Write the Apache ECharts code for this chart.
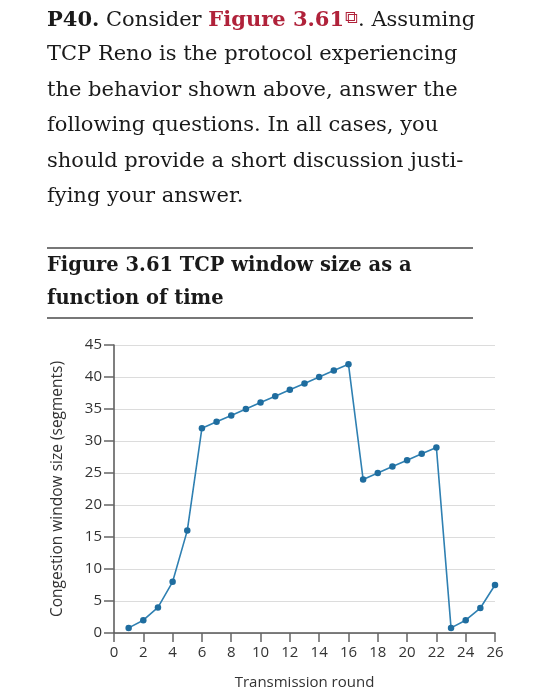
<!DOCTYPE html>
<html>
<head>
<meta charset="utf-8">
<script src="https://cdn.jsdelivr.net/npm/echarts@6/dist/echarts.min.js"></script>
<style>
  html, body { margin: 0; padding: 0; background: #fff; }
  #main { width: 557px; height: 700px; }
</style>
</head>
<body>
<div id="main"></div>
<script>
// transmission round and congestion window (segments)
var rounds = [1, 2, 3, 4, 5, 6, 7, 8, 9, 10, 11, 12, 13, 14, 15, 16, 17, 18, 19, 20, 21, 22, 23, 24, 25, 26];
var cwnd = [0.8, 2, 4, 8, 16, 32, 33, 34, 35, 36, 37, 38, 39, 40, 41, 42, 24, 25, 26, 27, 28, 29, 0.8, 2, 3.9, 7.5];
var xTicks = [0, 2, 4, 6, 8, 10, 12, 14, 16, 18, 20, 22, 24, 26];
var yTicks = [0, 5, 10, 15, 20, 25, 30, 35, 40, 45];

var questionLines = [
    '{b|P40.} Consider {r|Figure 3.61}{i|⧉}. Assuming',
    'TCP Reno is the protocol experiencing',
    'the behavior shown above, answer the',
    'following questions. In all cases, you',
    'should provide a short discussion justi-',
    'fying your answer.'
];
var captionLines = [
    'Figure 3.61 TCP window size as a',
    'function of time'
];

window.onload = function() {
    var myChart = echarts.init(document.getElementById('main')),
        serif = '"DejaVu Serif", "Liberation Serif", serif',
        sans = '"Open Sans", "Noto Sans", sans-serif',
        graphics = [],
        option;

    questionLines.forEach(function(line, i) {
        graphics.push({
            type: 'text',
            left: 47,
            top: 9 + i * 35.5,
            style: {
                text: line,
                font: '21px ' + serif,
                fill: '#1a1a1a',
                rich: {
                    b: { fontWeight: 'bold', fontSize: 21, fontFamily: serif, fill: '#1a1a1a' },
                    r: { fontWeight: 'bold', fontSize: 21, fontFamily: serif, fill: '#b0223a' },
                    i: { fontSize: 18, fontFamily: '"DejaVu Sans"', fill: '#b0223a', verticalAlign: 'top', padding: [0, 0, 6, 1] }
                }
            }
        });
    });

    captionLines.forEach(function(line, i) {
        graphics.push({
            type: 'text',
            left: 47,
            top: 256 + i * 33,
            style: {
                text: line,
                font: 'bold 19.5px ' + serif,
                fill: '#1a1a1a'
            }
        });
    });

    [248, 318].forEach(function(y) {
        graphics.push({
            type: 'line',
            shape: { x1: 47, y1: y, x2: 473, y2: y },
            style: { stroke: '#777', lineWidth: 2 }
        });
    });

    option = {
        animation: false,
        graphic: graphics,
        grid: {
            left: 114,
            right: 62,
            top: 345,
            bottom: 67
        },
        xAxis: {
            type: 'value',
            min: xTicks[0],
            max: xTicks[xTicks.length - 1],
            interval: xTicks[1] - xTicks[0],
            name: 'Transmission round',
            nameLocation: 'middle',
            nameGap: 42,
            nameTextStyle: { fontFamily: sans, fontSize: 15, color: '#333' },
            axisLine: { lineStyle: { color: '#555', width: 1.5 } },
            axisTick: { show: true, inside: false, length: 9, lineStyle: { color: '#666', width: 1.5 } },
            axisLabel: { fontFamily: sans, fontSize: 15, color: '#333', margin: 12 },
            splitLine: { show: false }
        },
        yAxis: {
            type: 'value',
            min: yTicks[0],
            max: yTicks[yTicks.length - 1],
            interval: yTicks[1] - yTicks[0],
            name: 'Congestion window size (segments)',
            nameLocation: 'middle',
            nameGap: 48,
            nameTextStyle: { fontFamily: sans, fontSize: 15.5, color: '#333' },
            axisLine: { show: true, lineStyle: { color: '#555', width: 1.5 } },
            axisTick: { show: true, inside: false, length: 10, lineStyle: { color: '#666', width: 1.5 } },
            axisLabel: { fontFamily: sans, fontSize: 15, color: '#333', margin: 12 },
            splitLine: { show: true, lineStyle: { color: '#dcdcdc', width: 1 } }
        },
        series: [{
            type: 'line',
            data: rounds.map(function(r, i) { return [r, cwnd[i]]; }),
            smooth: false,
            symbol: 'circle',
            symbolSize: 6.5,
            lineStyle: { color: '#2f80b2', width: 1.6 },
            itemStyle: { color: '#1f6d9f' }
        }]
    };

    myChart.setOption(option);
};
</script>
</body>
</html>
